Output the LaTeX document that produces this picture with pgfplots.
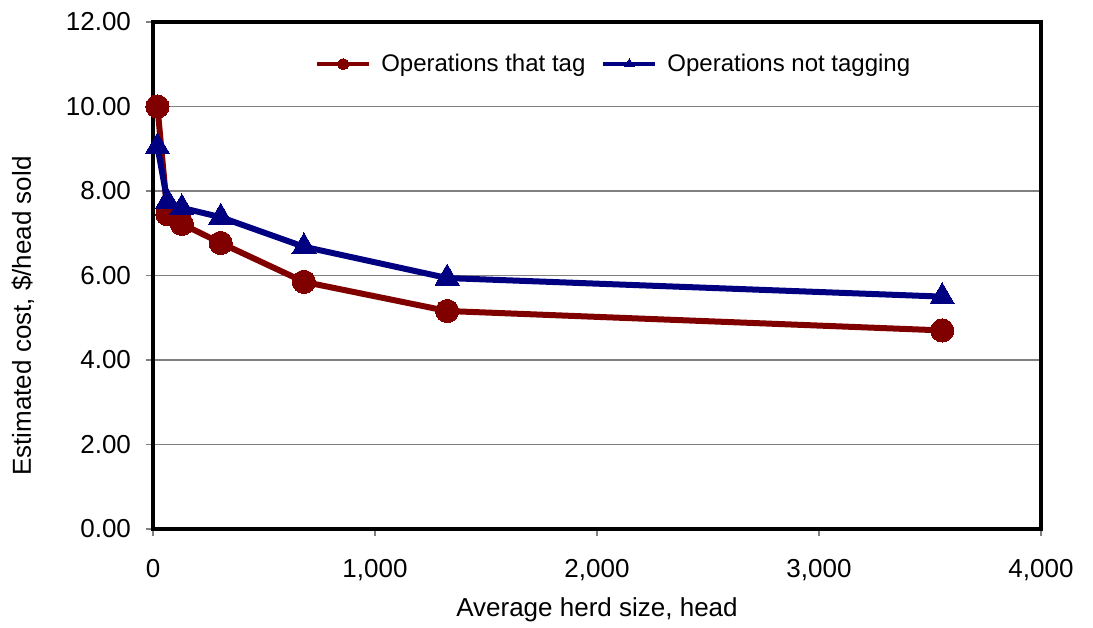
\documentclass[border=0pt]{standalone}
\usepackage{pgfplots}
\pgfplotsset{compat=1.18}
\usepackage{fontspec}
\setmainfont{Liberation Sans}
\definecolor{tagred}{HTML}{800000}
\definecolor{notblue}{HTML}{000080}
\begin{document}
\begin{tikzpicture}
\useasboundingbox (-76.5pt,-49pt) rectangle (470pt,264.5pt);
\begin{axis}[
    at={(0,0)}, anchor=south west,
    scale only axis,
    width=444pt, height=253.5pt,
    xmin=0, xmax=4000, ymin=0, ymax=12,
    xtick={0,1000,2000,3000,4000},
    ytick={0,2,...,12},
    ymajorgrids,
    grid style={gray, line width=0.6pt},
    axis line style={black, line width=2.2pt},
    tick style={gray, line width=0.6pt},
    tick align=outside,
    major tick length=3.5pt,
    xtick pos=bottom, ytick pos=left,
    /pgf/number format/assume math mode=true,
    xticklabel style={/pgf/number format/1000 sep={,}, yshift=-8pt},
    yticklabel style={xshift=-4pt, /pgf/number format/.cd, fixed, fixed zerofill, precision=2},
    ticklabel style={font=\fontsize{13}{15}\selectfont},
    xlabel={Average herd size, head},
    ylabel={Estimated cost, \$/head sold},
    label style={font=\fontsize{13}{15}\selectfont},
    xlabel style={at={(axis description cs:0.5,0)}, anchor=center, yshift=-40.5pt},
    ylabel style={at={(axis description cs:0,0.42)}, anchor=center, yshift=65pt},
    legend style={draw=none, fill=none, at={(0.52,0.917)}, anchor=center,
        font=\fontsize{12}{14}\selectfont, column sep=3pt,
        /tikz/every even column/.append style={column sep=6pt}},
    legend columns=2,
    legend cell align=left,
    legend image code/.code={
        \draw[#1, mark=none, line width=2pt] (0pt,0pt) -- (26pt,0pt);
        \draw[#1, only marks, mark size=2.8pt] plot coordinates {(13pt,0pt)};
    },
]
\addplot[color=tagred, line width=3pt, mark=*, mark size=5.8pt,
    mark options={solid, fill=tagred, line width=0pt}]
    coordinates {(20,10.00) (65,7.45) (130,7.22) (305,6.77) (680,5.85) (1325,5.16) (3555,4.70)};
\addlegendentry{Operations that tag}
\addplot[color=notblue, line width=3pt, mark=triangle*, mark size=7pt,
    mark options={solid, fill=notblue, line width=0pt}]
    coordinates {(20,9.05) (65,7.75) (130,7.60) (305,7.38) (680,6.68) (1325,5.94) (3555,5.50)};
\addlegendentry{Operations not tagging}
\end{axis}
\end{tikzpicture}
\end{document}
